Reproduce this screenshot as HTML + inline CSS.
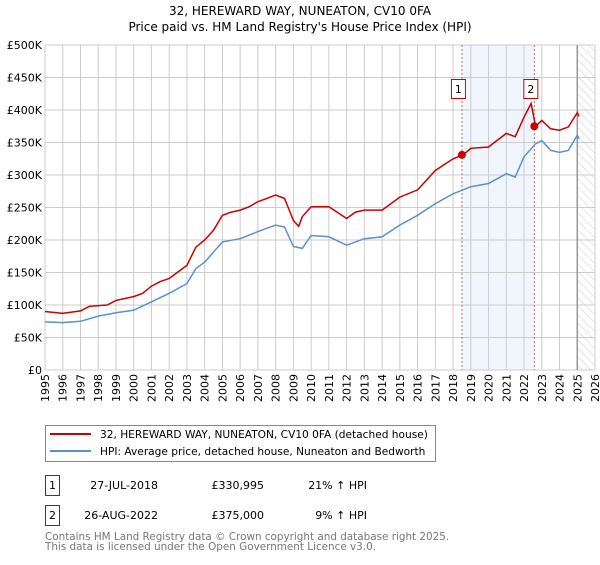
<!DOCTYPE html>
<html><head><meta charset="utf-8"><style>
body{margin:0;background:#fff;width:600px;height:560px;overflow:hidden;font-family:"Liberation Sans","DejaVu Sans",sans-serif;}
svg text{font-family:"DejaVu Sans","Liberation Sans",sans-serif;}
</style></head><body>
<svg id="chart" width="600" height="560" xmlns="http://www.w3.org/2000/svg">
<text x="300" y="15" font-size="12" text-anchor="middle">32, HEREWARD WAY, NUNEATON, CV10 0FA</text>
<text x="300" y="31" font-size="12" text-anchor="middle">Price paid vs. HM Land Registry's House Price Index (HPI)</text>
<defs><pattern id="hatch" width="6" height="6" patternUnits="userSpaceOnUse" patternTransform="rotate(-45)"><line x1="0" y1="0" x2="0" y2="6" stroke="#ccc" stroke-width="1"/></pattern></defs>
<g id="grid"></g><g id="marks"></g>
<g>
<rect x="45.5" y="425.5" width="390" height="36" fill="#fff" stroke="#888"/>
<line x1="50" y1="434" x2="91" y2="434" stroke="#cc0000" stroke-width="2"/>
<text x="100" y="438" font-size="10.6">32, HEREWARD WAY, NUNEATON, CV10 0FA (detached house)</text>
<line x1="50" y1="451" x2="91" y2="451" stroke="#5b8fd0" stroke-width="2"/>
<text x="100" y="455" font-size="10.6">HPI: Average price, detached house, Nuneaton and Bedworth</text>
</g>
<g font-size="11">
<rect x="45.5" y="475.5" width="14" height="20" fill="#fff" stroke="#cc0000"/>
<text x="52.5" y="489" text-anchor="middle">1</text>
<text x="158" y="489" text-anchor="end">27-JUL-2018</text>
<text x="264" y="489" text-anchor="end">£330,995</text>
<text x="367" y="489" text-anchor="end">21% ↑ HPI</text>
<rect x="45.5" y="505.5" width="14" height="20" fill="#fff" stroke="#cc0000"/>
<text x="52.5" y="519" text-anchor="middle">2</text>
<text x="158" y="519" text-anchor="end">26-AUG-2022</text>
<text x="264" y="519" text-anchor="end">£375,000</text>
<text x="367" y="519" text-anchor="end">9% ↑ HPI</text>
</g>
<text x="45" y="540" font-size="10.4" fill="#777">Contains HM Land Registry data © Crown copyright and database right 2025.</text>
<text x="45" y="550" font-size="10.4" fill="#777">This data is licensed under the Open Government Licence v3.0.</text>
</svg>
<script>
const yTicks=[0,50,100,150,200,250,300,350,400,450,500];
const yTickLabels=["£0","£50K","£100K","£150K","£200K","£250K","£300K","£350K","£400K","£450K","£500K"];
const xYears=[1995,1996,1997,1998,1999,2000,2001,2002,2003,2004,2005,2006,2007,2008,2009,2010,2011,2012,2013,2014,2015,2016,2017,2018,2019,2020,2021,2022,2023,2024,2025,2026];
const redT=[1995,1996,1997,1997.5,1998.5,1999,2000,2000.5,2001,2001.5,2002,2002.5,2003,2003.5,2004,2004.5,2005,2005.5,2006,2006.5,2007,2007.5,2008,2008.5,2009,2009.3,2009.5,2010,2011,2012,2012.5,2013,2014,2015,2016,2017,2018,2018.57,2019,2020,2021,2021.5,2022,2022.4,2022.65,2023,2023.5,2024,2024.5,2025,2025.1];
const redV=[90,87,91,98,100,107,113,118,129,136,141,151,161,189,200,215,238,243,246,251,259,264,269,264,230,221,236,251,251,233,243,246,246,266,277,307,325,331,341,343,364,359,389,410,375,384,371,369,374,396,390];
const blueT=[1995,1996,1997,1998,1999,2000,2001,2002,2003,2003.5,2004,2005,2006,2007,2008,2008.5,2009,2009.5,2010,2011,2012,2013,2014,2015,2016,2017,2018,2019,2020,2021,2021.5,2022,2022.65,2023,2023.5,2024,2024.5,2025,2025.1];
const blueV=[74,73,75,83,88,92,105,118,133,156,166,197,202,213,223,220,190,187,207,205,192,202,205,223,238,256,271,282,287,302,297,328,348,353,338,335,338,361,356];
const saleT=[2018.5,2022.58];
const saleV=[331,375];
const saleLabels=["1","2"];
const X0=45,X1=595,Y0=370,Y1=45;
const xs=t=>X0+(t-1995)/31*(X1-X0);
const ys=v=>Y0-v/500*(Y0-Y1);
const NS="http://www.w3.org/2000/svg";
function mk(tag,attrs,parent){const e=document.createElementNS(NS,tag);for(const k in attrs)e.setAttribute(k,attrs[k]);parent.appendChild(e);return e;}
const g=document.getElementById('grid'),m=document.getElementById('marks');
let e=mk('rect',{x:xs(saleT[0]),y:Y1,width:xs(saleT[1])-xs(saleT[0]),height:Y0-Y1,fill:'#eef3fc',opacity:0.8},g);


e=mk('rect',{x:xs(2025),y:Y1,width:X1-xs(2025),height:Y0-Y1,fill:'url(#hatch)'},g);


yTicks.forEach((v,i)=>{
 mk('line',{x1:X0,x2:X1,y1:ys(v),y2:ys(v),stroke:'#ccc','stroke-width':1},g);
 const t=mk('text',{x:X0-3,y:ys(v)+4,'font-size':11,'text-anchor':'end'},g);t.textContent=yTickLabels[i];
 
 
});
xYears.forEach(y=>{
 mk('line',{x1:xs(y),x2:xs(y),y1:Y1,y2:Y0,stroke:'#ccc','stroke-width':1},g);
 const t=mk('text',{x:0,y:0,'font-size':11,'text-anchor':'end',transform:`translate(${xs(y)+4},374) rotate(-90)`},g);t.textContent=y;
 
 
});
e=mk('line',{x1:xs(2025),x2:xs(2025),y1:Y1,y2:Y0,stroke:'#999','stroke-width':1.5},g);


saleT.forEach((t,i)=>{
 const l=mk('line',{x1:xs(t),x2:xs(t),y1:Y1,y2:Y0,stroke:'#e06060','stroke-width':1,'stroke-dasharray':'2,2'},m);
 
 
});
function path(T,V,col,name){
 const p=mk('path',{d:T.map((t,i)=>(i?'L':'M')+xs(t).toFixed(1)+','+ys(V[i]).toFixed(1)).join(''),fill:'none',stroke:col,'stroke-width':1.5},m);
 
 
}
path(blueT,blueV,'#5b8fd0','hpi-line');
path(redT,redV,'#cc0000','property-line');
saleT.forEach((t,i)=>{
 const c=mk('circle',{cx:xs(t),cy:ys(saleV[i]),r:4,fill:'#cc0000'},m);
 
 
 const b=mk('rect',{x:xs(t)-10.5,y:79.5,width:14,height:19,fill:'#fff',stroke:'#cc0000'},m);
 
 
 const tx=mk('text',{x:xs(t)-3.5,y:93,'font-size':11,'text-anchor':'middle'},m);tx.textContent=saleLabels[i];
 
 
});
</script>
</body></html>
